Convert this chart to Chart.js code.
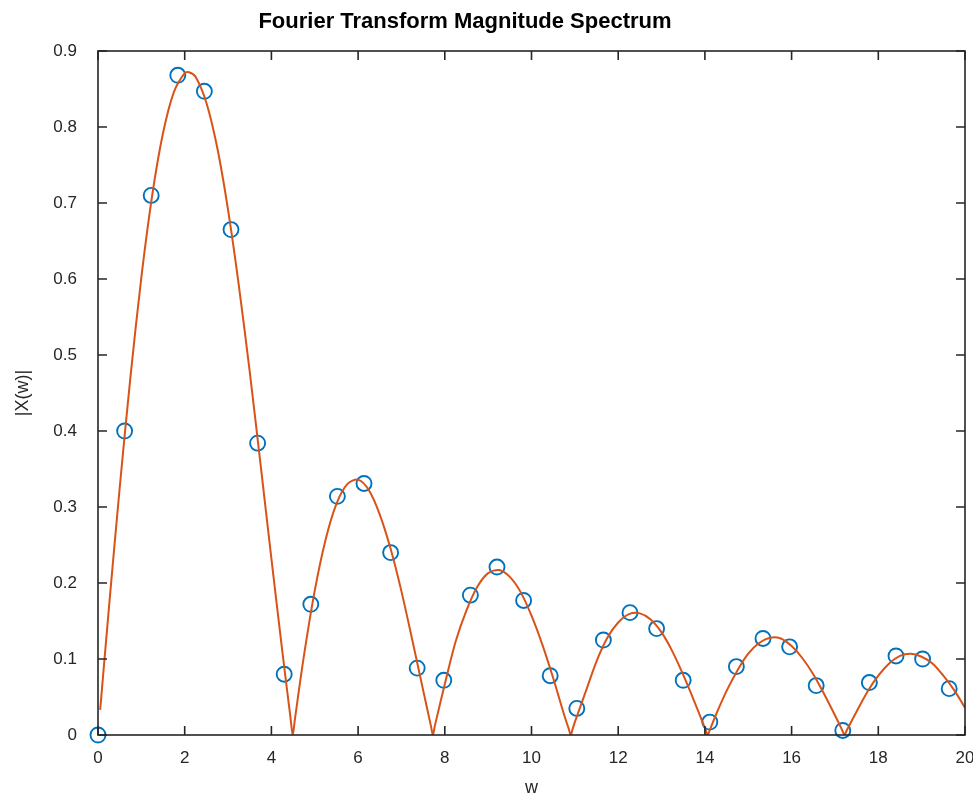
<!DOCTYPE html>
<html>
<head>
<meta charset="utf-8">
<script src="https://cdn.jsdelivr.net/npm/chart.js@4.4.1/dist/chart.umd.min.js"></script>
<style>
  html, body { margin: 0; padding: 0; background: #fff; overflow: hidden; }
  #wrap { width: 973px; height: 799px; overflow: hidden; }
  #box { width: 990px; height: 799px; }
</style>
</head>
<body>
<div id="wrap"><div id="box"><canvas id="spectrum"></canvas></div></div>
<script>
// sampled spectrum (circles)
const sampleW = [0, 0.614, 1.227, 1.841, 2.454, 3.068, 3.682, 4.295, 4.909, 5.522, 6.136,
  6.750, 7.363, 7.977, 8.590, 9.204, 9.818, 10.431, 11.045, 11.658, 12.272, 12.886,
  13.499, 14.113, 14.726, 15.340, 15.954, 16.567, 17.181, 17.794, 18.408, 19.022, 19.635];
const sampleMag = [0, 0.400, 0.710, 0.868, 0.847, 0.665, 0.384, 0.080, 0.172, 0.314, 0.331,
  0.240, 0.088, 0.072, 0.184, 0.221, 0.177, 0.078, 0.035, 0.125, 0.161, 0.140,
  0.072, 0.017, 0.090, 0.127, 0.116, 0.065, 0.006, 0.069, 0.104, 0.100, 0.061];

// continuous spectrum (line)
const curveW = [0.05, 0.25, 0.5, 0.75, 1.0, 1.25, 1.5, 1.75, 2.0, 2.1, 2.25, 2.5, 2.75, 3.0,
  3.25, 3.5, 3.75, 4.0, 4.25, 4.44, 4.493, 4.54, 4.75, 5.0, 5.25, 5.5, 5.75, 6.0, 6.25,
  6.5, 6.75, 7.0, 7.25, 7.5, 7.68, 7.725, 7.77, 8.0, 8.25, 8.5, 8.75, 9.0, 9.25, 9.5,
  9.75, 10.0, 10.25, 10.5, 10.75, 10.86, 10.904, 10.95, 11.0, 11.25, 11.5, 11.75, 12.0,
  12.25, 12.5, 12.75, 13.0, 13.25, 13.5, 13.75, 14.0, 14.066, 14.11, 14.25, 14.5, 14.75,
  15.0, 15.25, 15.5, 15.75, 16.0, 16.25, 16.5, 16.75, 17.0, 17.17, 17.221, 17.27, 17.5,
  17.75, 18.0, 18.25, 18.5, 18.75, 19.0, 19.25, 19.5, 19.75, 20.0];
const curveMag = [0.033, 0.166, 0.325, 0.472, 0.602, 0.710, 0.792, 0.846, 0.871, 0.872, 0.866,
  0.832, 0.773, 0.691, 0.591, 0.478, 0.356, 0.232, 0.111, 0.023, 0, 0.020, 0.104, 0.190,
  0.257, 0.304, 0.330, 0.336, 0.322, 0.290, 0.245, 0.189, 0.125, 0.059, 0.012, 0, 0.012,
  0.067, 0.123, 0.164, 0.195, 0.213, 0.217, 0.208, 0.188, 0.157, 0.119, 0.075, 0.027,
  0.008, 0, 0.008, 0.017, 0.057, 0.097, 0.128, 0.148, 0.159, 0.160, 0.152, 0.135, 0.110,
  0.079, 0.045, 0.009, 0, 0.006, 0.026, 0.058, 0.085, 0.107, 0.121, 0.128, 0.127, 0.117,
  0.101, 0.080, 0.054, 0.026, 0.006, 0, 0.006, 0.031, 0.057, 0.078, 0.094, 0.104, 0.107,
  0.103, 0.094, 0.078, 0.059, 0.036];

const xTicks = [0, 2, 4, 6, 8, 10, 12, 14, 16, 18, 20];
const yTicks = [0, 0.1, 0.2, 0.3, 0.4, 0.5, 0.6, 0.7, 0.8, 0.9];

const FONT = "'Liberation Sans', Arial, Helvetica, sans-serif";
const INK = '#262626';

// MATLAB-like box with inward ticks + title
const axesBox = {
  id: 'axesBox',
  afterDraw(chart) {
    const { ctx, chartArea: a, scales } = chart;
    const len = 9;
    ctx.save();
    ctx.strokeStyle = INK;
    ctx.lineWidth = 1.6;
    ctx.strokeRect(a.left, a.top, a.right - a.left, a.bottom - a.top);
    ctx.beginPath();
    xTicks.forEach(v => {
      const px = scales.x.getPixelForValue(v);
      ctx.moveTo(px, a.bottom); ctx.lineTo(px, a.bottom - len);
      ctx.moveTo(px, a.top); ctx.lineTo(px, a.top + len);
    });
    yTicks.forEach(v => {
      const py = scales.y.getPixelForValue(v);
      ctx.moveTo(a.left, py); ctx.lineTo(a.left + len, py);
      ctx.moveTo(a.right, py); ctx.lineTo(a.right - len, py);
    });
    ctx.stroke();

    ctx.fillStyle = '#000';
    ctx.font = 'bold 22px ' + FONT;
    ctx.textAlign = 'center';
    ctx.textBaseline = 'alphabetic';
    ctx.fillText('Fourier Transform Magnitude Spectrum', 465, 28);
    ctx.restore();
  }
};

new Chart(document.getElementById('spectrum'), {
  type: 'scatter',
  data: {
    datasets: [
      {
        label: 'curve',
        data: curveW.map((w, i) => ({ x: w, y: curveMag[i] })),
        showLine: true,
        borderColor: '#D95319',
        borderWidth: 2,
        pointRadius: 0,
        tension: 0.3
      },
      {
        label: 'samples',
        data: sampleW.map((w, i) => ({ x: w, y: sampleMag[i] })),
        showLine: false,
        pointStyle: 'circle',
        pointRadius: 7.5,
        pointBorderWidth: 1.9,
        borderColor: '#0072BD',
        backgroundColor: 'rgba(0,0,0,0)',
        clip: false
      }
    ]
  },
  options: {
    responsive: true,
    maintainAspectRatio: false,
    animation: false,
    devicePixelRatio: 1,
    layout: { padding: { top: 51, right: 25, left: 0, bottom: 0 } },
    plugins: {
      legend: { display: false },
      tooltip: { enabled: false },
      title: { display: false }
    },
    scales: {
      x: {
        type: 'linear',
        min: 0,
        max: 20,
        afterFit: s => { s.height = 64; },
        afterBuildTicks: s => { s.ticks = xTicks.map(v => ({ value: v })); },
        grid: { display: false, drawTicks: false },
        border: { display: false },
        ticks: { color: INK, font: { family: FONT, size: 17 }, padding: 13, maxRotation: 0,
          callback: v => String(v) },
        title: { display: true, text: 'w', color: INK, font: { family: FONT, size: 18 },
          padding: { top: 0, bottom: 0 } }
      },
      y: {
        type: 'linear',
        min: 0,
        max: 0.9,
        afterFit: s => { s.width = 98; },
        afterBuildTicks: s => { s.ticks = yTicks.map(v => ({ value: v })); },
        grid: { display: false, drawTicks: false },
        border: { display: false },
        ticks: { color: INK, font: { family: FONT, size: 17 }, padding: 21,
          callback: v => (v === 0 ? '0' : v.toFixed(1)) },
        title: { display: true, text: '|X(w)|', color: INK, font: { family: FONT, size: 18 },
          padding: { top: 12, bottom: 0 } }
      }
    }
  },
  plugins: [axesBox]
});
</script>
</body>
</html>
